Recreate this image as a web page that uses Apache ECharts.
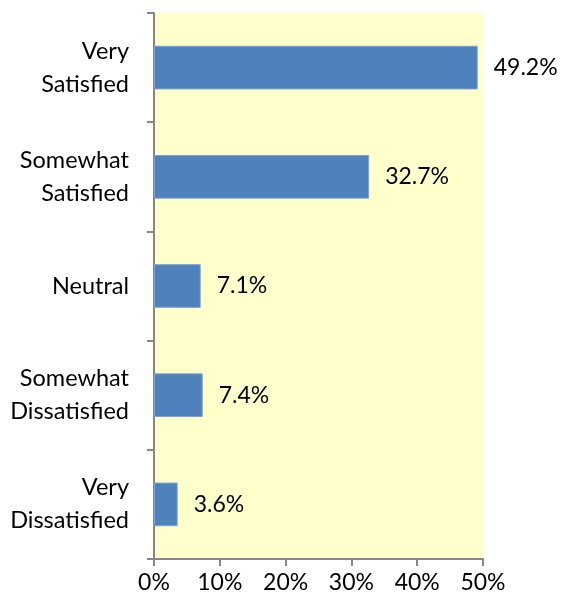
<!DOCTYPE html>
<html>
<head>
<meta charset="utf-8">
<script src="https://cdn.jsdelivr.net/npm/echarts@6/dist/echarts.min.js"></script>
<style>
  html, body { margin: 0; padding: 0; background: #fff; }
  #chart { width: 561px; height: 604px; }
</style>
</head>
<body>
<div id="chart"></div>
<script>
let categories = ['Very\nSatisfied', 'Somewhat\nSatisfied', 'Neutral', 'Somewhat\nDissatisfied', 'Very\nDissatisfied'];
let values = [49.2, 32.7, 7.1, 7.4, 3.6];

let myChart = echarts.init(document.getElementById('chart'));
let font = 'Lato, "Open Sans", sans-serif';

option = {
    animation: false,
    grid: {
        left: 154,
        right: 78,
        top: 13,
        bottom: 45,
        show: true,
        backgroundColor: '#FFFFCC',
        borderWidth: 0
    },
    xAxis: {
        type: 'value',
        min: 0,
        max: 50,
        interval: 10,
        splitLine: { show: false },
        axisLine: { show: true, lineStyle: { color: '#868686', width: 2 } },
        axisTick: { show: true, length: 7, lineStyle: { color: '#868686', width: 2 } },
        axisLabel: {
            formatter: '{value}%',
            color: '#000',
            fontSize: 23,
            fontFamily: font,
            margin: 12
        }
    },
    yAxis: {
        type: 'category',
        inverse: true,
        data: categories,
        axisLine: { show: true, lineStyle: { color: '#868686', width: 2 } },
        axisTick: { show: true, length: 7, lineStyle: { color: '#868686', width: 2 } },
        axisLabel: {
            color: '#000',
            fontSize: 23.5,
            fontFamily: font,
            lineHeight: 33,
            margin: 25,
            align: 'right'
        }
    },
    series: [{
        type: 'bar',
        data: values,
        barCategoryGap: '60%',
        itemStyle: { color: '#4F81BD', borderColor: '#7EA3CF', borderWidth: 1 },
        label: {
            show: true,
            position: 'right',
            distance: 16,
            formatter: p => p.value.toFixed(1) + '%',
            color: '#000',
            fontSize: 23,
            fontFamily: font
        }
    }]
};

myChart.setOption(option);
</script>
</body>
</html>
